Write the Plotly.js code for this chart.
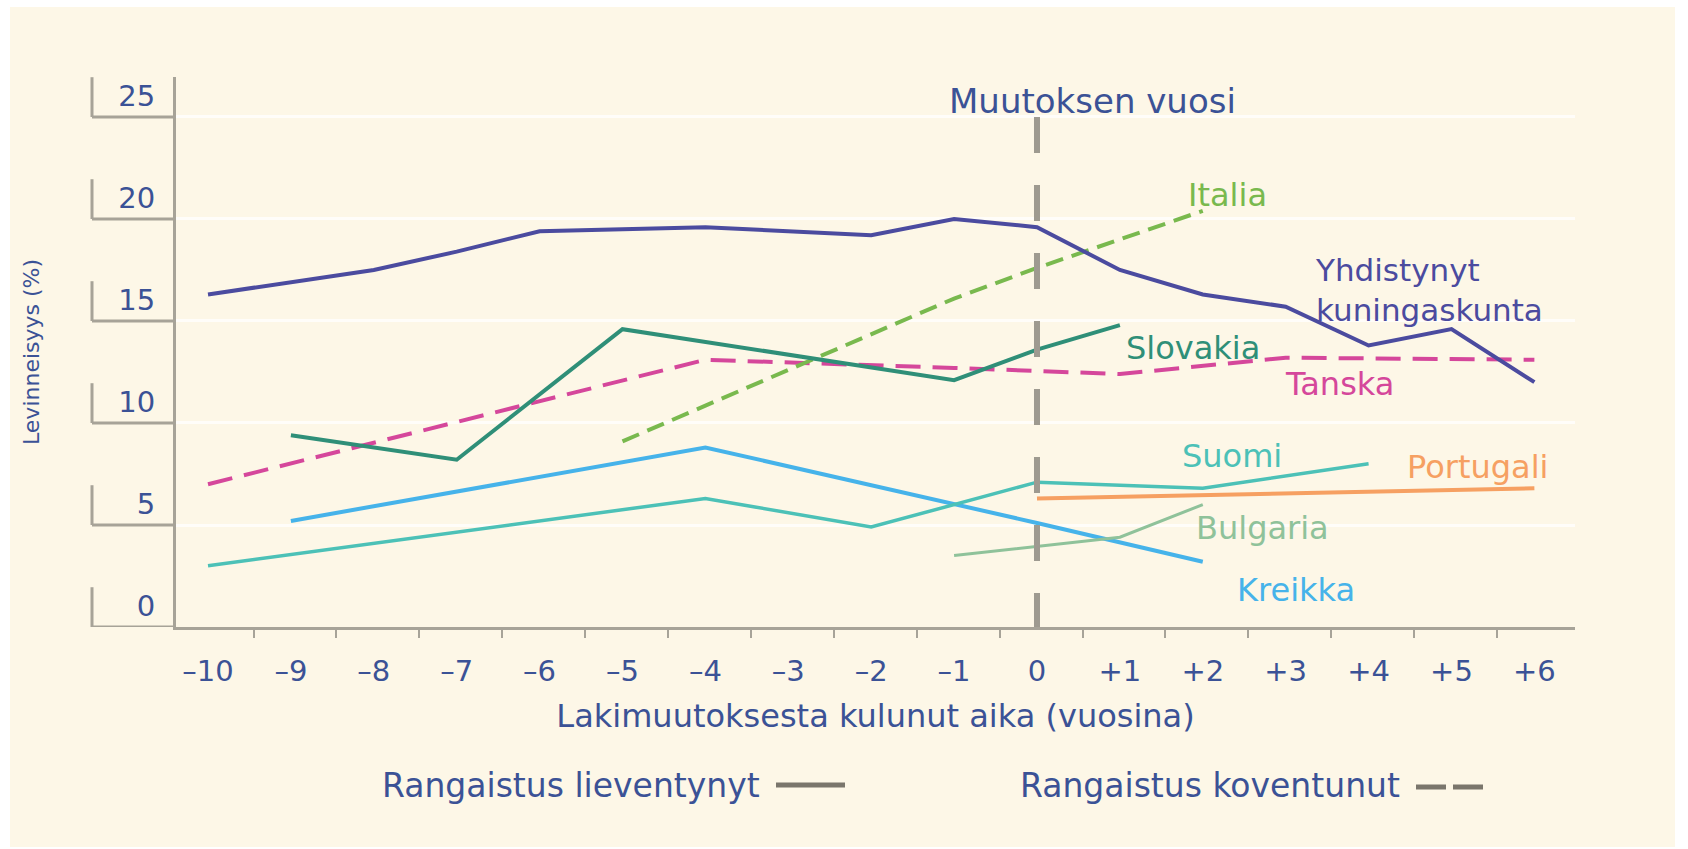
<!DOCTYPE html>
<html>
<head>
<meta charset="utf-8">
<script src="https://cdn.plot.ly/plotly-3.0.1.min.js"></script>
<style>
  html, body { margin: 0; padding: 0; background: #ffffff; width: 1688px; height: 849px; overflow: hidden; }
  #chart { position: absolute; left: 10px; top: 7px; width: 1665px; height: 840px; }
</style>
</head>
<body>
<div id="chart"></div>
<script>
// ---- data (years relative to the law change, prevalence %) ----
const tickValues = [-10, -9, -8, -7, -6, -5, -4, -3, -2, -1, 0, 1, 2, 3, 4, 5, 6];
const tickLabels = ["–10", "–9", "–8", "–7", "–6", "–5", "–4", "–3", "–2", "–1", "0", "+1", "+2", "+3", "+4", "+5", "+6"];
const yTickValues = [0, 5, 10, 15, 20, 25];

const ukX = [-10, -8, -7, -6, -4, -2, -1, 0, 1, 2, 3, 4, 5, 6];
const ukY = [16.3, 17.5, 18.4, 19.4, 19.6, 19.2, 20.0, 19.6, 17.5, 16.3, 15.7, 13.8, 14.6, 12.0];

const italiaX = [-5, -1, 0, 2];
const italiaY = [9.1, 16.1, 17.6, 20.4];

const slovakiaX = [-9, -7, -5, -1, 0, 1];
const slovakiaY = [9.4, 8.2, 14.6, 12.1, 13.6, 14.8];

const tanskaX = [-10, -6, -4, -1, 1, 3, 6];
const tanskaY = [7.0, 11.1, 13.1, 12.7, 12.4, 13.2, 13.1];

const kreikkaX = [-9, -4, 0, 2];
const kreikkaY = [5.2, 8.8, 5.1, 3.2];

const suomiX = [-10, -4, -2, 0, 2, 4];
const suomiY = [3.0, 6.3, 4.9, 7.1, 6.8, 8.0];

const portugaliX = [0, 6];
const portugaliY = [6.3, 6.8];

const bulgariaX = [-1, 1, 2];
const bulgariaY = [3.5, 4.4, 6.0];

// ---- styling ----
const FONT = "DejaVu Sans, sans-serif";
const TEXT_BLUE = "#3b5296";
const AXIS_GRAY = "#a7a398";
const C = {
  uk: "#4b4b9f", italia: "#79b94e", slovakia: "#2f8f78", tanska: "#d5479b",
  kreikka: "#46b3ea", suomi: "#4cc1b7", portugali: "#f6a062", bulgaria: "#8fc29a"
};

function line(x, y, color, name, dash, width) {
  return { type: "scatter", mode: "lines", x: x, y: y, name: name,
    line: { color: color, width: width || 4, dash: dash || "solid" }, hoverinfo: "x+y+name" };
}

const traces = [
  line(tanskaX, tanskaY, C.tanska, "Tanska", "25px,12px", 4),
  line(italiaX, italiaY, C.italia, "Italia", "18px,9px", 4),
  line(ukX, ukY, C.uk, "Yhdistynyt kuningaskunta"),
  line(slovakiaX, slovakiaY, C.slovakia, "Slovakia"),
  line(kreikkaX, kreikkaY, C.kreikka, "Kreikka"),
  line(suomiX, suomiY, C.suomi, "Suomi", null, 3.5),
  line(portugaliX, portugaliY, C.portugali, "Portugali"),
  line(bulgariaX, bulgariaY, C.bulgaria, "Bulgaria", null, 3)
];

// plot area geometry (pixels) used only for decoration placement
const PW = 1399, PH = 550;
const px = v => v / PW;      // pixel offset -> paper fraction (x)
const py = v => v / PH;      // pixel offset -> paper fraction (y)

const shapes = [];
// bracket decorations around y tick labels
yTickValues.forEach(t => {
  shapes.push({ type: "line", xref: "paper", yref: "y", x0: px(-84), x1: 0, y0: t, y1: t,
    line: { color: AXIS_GRAY, width: 3 } });
  shapes.push({ type: "line", xref: "paper", yref: "y", x0: px(-84), x1: px(-84), y0: t, y1: t + 1.95,
    line: { color: AXIS_GRAY, width: 3 } });
});
// "year of change" dashed line
shapes.push({ type: "line", xref: "x", yref: "y", x0: 0, x1: 0, y0: 25, y1: 0,
  line: { color: "#9e9a90", width: 6, dash: "36px,32px" } });
// legend samples
shapes.push({ type: "line", xref: "paper", yref: "paper", x0: px(600), x1: px(669), y0: py(-158), y1: py(-158),
  line: { color: "#7a766c", width: 5 } });
shapes.push({ type: "line", xref: "paper", yref: "paper", x0: px(1240), x1: px(1307), y0: py(-160), y1: py(-160),
  line: { color: "#7a766c", width: 5, dash: "30px,7px" } });

function lab(text, x, y, color, size) {
  return { text: text, x: x, y: y, xref: "x", yref: "y", xanchor: "left", yanchor: "middle",
    align: "left", showarrow: false, font: { family: FONT, size: size || 32, color: color } };
}

const annotations = [
  { text: "Muutoksen vuosi", x: 0.675, y: 25.8, xref: "x", yref: "y", xanchor: "center", yanchor: "middle",
    showarrow: false, font: { family: FONT, size: 34, color: TEXT_BLUE } },
  lab("Italia", 1.8, 21.2, C.italia),
  lab("Yhdistynyt<br>kuningaskunta", 3.33, 16.5, C.uk, 31),
  lab("Slovakia", 1.05, 13.7, C.slovakia),
  lab("Tanska", 2.97, 11.9, C.tanska),
  lab("Suomi", 1.72, 8.4, C.suomi),
  lab("Portugali", 4.44, 7.85, C.portugali),
  lab("Bulgaria", 1.89, 4.85, C.bulgaria),
  lab("Kreikka", 2.39, 1.8, C.kreikka),
  { text: "Rangaistus lieventynyt", x: px(586), y: py(-158), xref: "paper", yref: "paper",
    xanchor: "right", yanchor: "middle", showarrow: false,
    font: { family: FONT, size: 33, color: TEXT_BLUE } },
  { text: "Rangaistus koventunut", x: px(1226), y: py(-158), xref: "paper", yref: "paper",
    xanchor: "right", yanchor: "middle", showarrow: false,
    font: { family: FONT, size: 33, color: TEXT_BLUE } }
];

const layout = {
  width: 1665, height: 840,
  margin: { l: 166, r: 100, t: 70, b: 220, pad: 0 },
  paper_bgcolor: "#fdf7e7",
  plot_bgcolor: "#fdf7e7",
  showlegend: false,
  font: { family: FONT, color: TEXT_BLUE },
  xaxis: {
    range: [-10.386, 6.49],
    tickmode: "array", tickvals: tickValues, ticktext: tickLabels,
    ticks: "", showgrid: false, zeroline: false,
    showline: true, linecolor: AXIS_GRAY, linewidth: 3,
    tickfont: { family: FONT, size: 29, color: TEXT_BLUE },
    ticklabelstandoff: 16,
    minor: { tickmode: "linear", tick0: -9.45, dtick: 1, ticks: "outside", ticklen: 8,
      tickwidth: 2, tickcolor: AXIS_GRAY, showgrid: false },
    title: { text: "Lakimuutoksesta kulunut aika (vuosina)", standoff: 18,
      font: { family: FONT, size: 32, color: TEXT_BLUE } },
    automargin: false
  },
  yaxis: {
    range: [0, 26.96],
    tickmode: "array", tickvals: yTickValues,
    ticks: "", showgrid: true, gridcolor: "rgba(255,255,255,0.75)", gridwidth: 3,
    zeroline: false, showline: true, linecolor: AXIS_GRAY, linewidth: 3,
    tickfont: { family: FONT, size: 29, color: TEXT_BLUE },
    ticklabelstandoff: 12, ticklabelshift: -21,
    title: { text: "Levinneisyys (%)", standoff: 73,
      font: { family: FONT, size: 22, color: TEXT_BLUE } },
    automargin: false
  },
  shapes: shapes,
  annotations: annotations
};

Plotly.newPlot("chart", traces, layout, { displayModeBar: false, staticPlot: true });
</script>
</body>
</html>
